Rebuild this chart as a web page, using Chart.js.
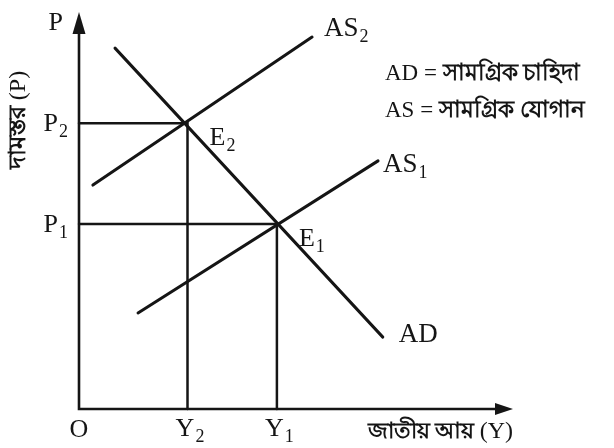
<!DOCTYPE html>
<html><head><meta charset="utf-8">
<script src="https://cdn.jsdelivr.net/npm/chart.js@4"></script>
<style>html,body{margin:0;padding:0;background:#fff}canvas{display:block}</style>
</head><body>
<canvas id="c" width="614" height="448"></canvas>
<script>
// ---- data ----
const adX  = [8.3, 70.0];   const adY  = [90.9, 18.1];
const as2X = [3.2, 53.7];   const as2Y = [56.4, 93.7];
const as1X = [13.6, 68.9];  const as1Y = [24.2, 62.5];
const eqNames  = ['E2', 'E1'];
const eqIncome = [25.0, 45.6];   // Y2, Y1
const eqPrice  = [72.0, 46.6];   // P2, P1
const xTickLabels = ['Y2', 'Y1'];
const yTickLabels = ['P2', 'P1'];
const curveLabels = ['AD', 'AS2', 'AS1'];
const axisMax = 100;
const legendKeys = ['AD = ', 'AS = '];
const legendTexts = ['সামগ্রিক চাহিদা', 'সামগ্রিক যোগান'];
const xTitleParts = ['জাতীয় আয় ', '(Y)'];
const yTitleParts = ['দামস্তর ', '(P)'];

const SERIF = '"Liberation Serif","Times New Roman",serif';
const BENG = 'bold {s}px "Liberation Serif","Noto Sans",sans-serif';
const INK = '#151515';

function pts(xa, ya) { return xa.map((x, i) => ({x, y: ya[i]})); }
const lineDs = (data, w) => ({data, showLine: true, borderColor: INK, borderWidth: w, pointRadius: 0, clip: false, borderCapStyle: 'round', tension: 0});

const datasets = [
  lineDs(pts(adX, adY), 3),
  lineDs(pts(as2X, as2Y), 3),
  lineDs(pts(as1X, as1Y), 3),
];
eqIncome.forEach((yv, i) => {
  datasets.push(lineDs([{x: 0, y: eqPrice[i]}, {x: yv, y: eqPrice[i]}, {x: yv, y: 0}], 2.5));
});

function drawSub(ctx, text, x, y, size, align) {
  const m = text.match(/^([A-Za-z]+)(\d*)$/);
  const base = m ? m[1] : text, sub = m ? m[2] : '';
  ctx.font = size + 'px ' + SERIF;
  const wb = ctx.measureText(base).width;
  const subSize = Math.round(size * 0.68);
  ctx.font = subSize + 'px ' + SERIF;
  const ws = sub ? ctx.measureText(sub).width : 0;
  let sx = x;
  if (align === 'center') sx = x - (wb + ws) / 2;
  else if (align === 'right') sx = x - (wb + ws);
  ctx.textAlign = 'left';
  ctx.textBaseline = 'middle';
  ctx.font = size + 'px ' + SERIF;
  ctx.fillText(base, sx, y);
  if (sub) {
    ctx.font = subSize + 'px ' + SERIF;
    ctx.fillText(sub, sx + wb + 1, y + size * 0.3);
  }
}

// draw a sequence of [text, font] segments; align: left/right/center
function drawSegs(ctx, segs, x, y, align) {
  let total = 0;
  const ws = segs.map(([t, f]) => { ctx.font = f; const w = ctx.measureText(t).width; total += w; return w; });
  let sx = align === 'right' ? x - total : align === 'center' ? x - total / 2 : x;
  ctx.textAlign = 'left'; ctx.textBaseline = 'middle';
  segs.forEach(([t, f], i) => { ctx.font = f; ctx.fillText(t, sx, y); sx += ws[i]; });
}

const deco = {
  id: 'deco',
  afterDatasetsDraw(chart) {
    const ctx = chart.ctx, xs = chart.scales.x, ys = chart.scales.y;
    const X = v => xs.getPixelForValue(v), Y = v => ys.getPixelForValue(v);
    const ox = X(0), oy = Y(0), top = Y(axisMax), right = X(axisMax);
    ctx.save();
    ctx.strokeStyle = INK; ctx.fillStyle = INK; ctx.lineWidth = 2.6;
    // axes
    ctx.beginPath(); ctx.moveTo(ox, top + 20); ctx.lineTo(ox, oy); ctx.lineTo(right - 16, oy); ctx.stroke();
    ctx.beginPath(); ctx.moveTo(ox, top); ctx.lineTo(ox - 6.5, top + 22); ctx.lineTo(ox + 6.5, top + 22); ctx.closePath(); ctx.fill();
    ctx.beginPath(); ctx.moveTo(right, oy); ctx.lineTo(right - 18, oy - 6); ctx.lineTo(right - 18, oy + 6); ctx.closePath(); ctx.fill();

    // axis letters
    drawSub(ctx, 'P', ox - 16, top + 11, 26, 'right');
    drawSub(ctx, 'O', ox, oy + 21, 26, 'center');
    yTickLabels.forEach((t, i) => drawSub(ctx, t, ox - 12, Y(eqPrice[i]) + 1, 26, 'right'));
    xTickLabels.forEach((t, i) => drawSub(ctx, t, X(eqIncome[i]) + 2, oy + 20, 26, 'center'));

    // equilibrium labels
    eqNames.forEach((t, i) => drawSub(ctx, t, X(eqIncome[i]) + 22, Y(eqPrice[i]) + 15, 26, 'left'));

    // curve end labels
    drawSub(ctx, curveLabels[0], X(adX[1]) + 16, Y(adY[1]) - 2, 27, 'left');
    drawSub(ctx, curveLabels[1], X(as2X[1]) + 12, Y(as2Y[1]) - 8, 27, 'left');
    drawSub(ctx, curveLabels[2], X(as1X[1]) + 5, Y(as1Y[1]) + 4, 27, 'left');

    // legend text
    const lf = '23px ' + SERIF, bf = BENG.replace('{s}', 23);
    drawSegs(ctx, [[legendKeys[0], lf], [legendTexts[0], bf]], 385, 74, 'left');
    drawSegs(ctx, [[legendKeys[1], lf], [legendTexts[1], bf]], 385, 111, 'left');

    // axis titles
    drawSegs(ctx, [[xTitleParts[0], BENG.replace('{s}', 22)], [xTitleParts[1], '24px ' + SERIF]], right, oy + 23, 'right');
    ctx.save();
    ctx.translate(19, 120); ctx.rotate(-Math.PI / 2);
    drawSegs(ctx, [[yTitleParts[0], BENG.replace('{s}', 24)], [yTitleParts[1], '24px ' + SERIF]], 0, 0, 'center');
    ctx.restore();
    ctx.restore();
  }
};

new Chart(document.getElementById('c'), {
  type: 'scatter',
  data: {datasets},
  options: {
    responsive: false, animation: false, events: [],
    layout: {padding: {left: 79, right: 101, top: 12, bottom: 39}},
    plugins: {legend: {display: false}, tooltip: {enabled: false}},
    scales: {
      x: {type: 'linear', min: 0, max: axisMax, display: false},
      y: {type: 'linear', min: 0, max: axisMax, display: false}
    }
  },
  plugins: [deco]
});
</script>
</body></html>
